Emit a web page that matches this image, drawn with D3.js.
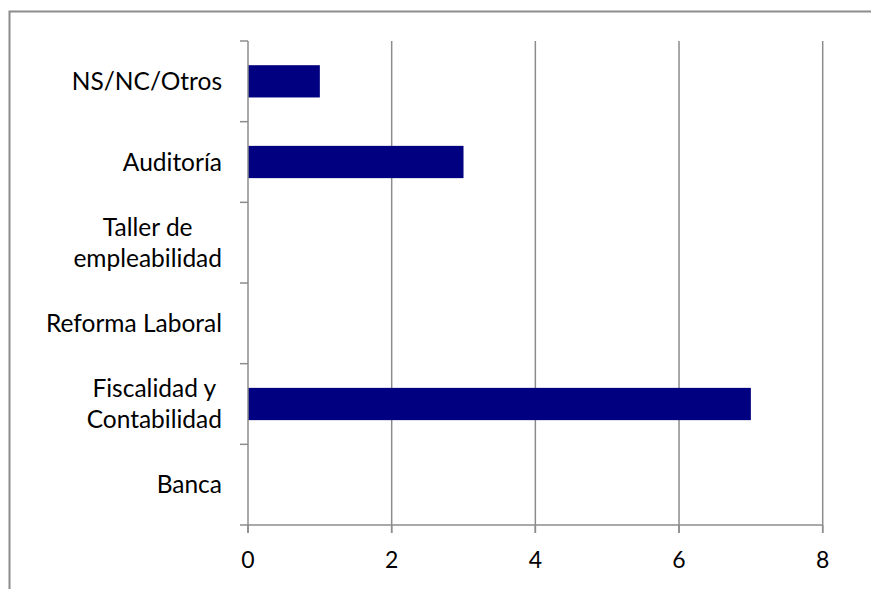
<!DOCTYPE html>
<html><head><meta charset="utf-8">
<script src="https://cdn.jsdelivr.net/npm/d3@7"></script>
<style>body{margin:0;background:#fff}svg{display:block}</style>
</head><body>
<script>
const categories = ["Banca", "Fiscalidad y\nContabilidad", "Reforma Laboral", "Taller de\nempleabilidad", "Auditoría", "NS/NC/Otros"];
const values = [0, 7, 0, 0, 3, 1];
const xTicks = [0, 2, 4, 6, 8];

(function () {
const W = 871, H = 589;
const pLeft = 248, pRight = 822.7, pTop = 41, pBottom = 525;
const font = "Lato, 'Open Sans', sans-serif";
const fs = 24.5;
const gridColor = "#8c8c8c";

const svg = d3.select("body").append("svg").attr("width", W).attr("height", H);
svg.append("rect").attr("x", 9.5).attr("y", 11.5).attr("width", 1000).attr("height", 1000)
  .attr("fill", "none").attr("stroke", gridColor).attr("stroke-width", 2);

const x = d3.scaleLinear().domain([0, 8]).range([pLeft, pRight]);
const y = d3.scaleBand().domain(categories).range([pBottom, pTop]).paddingInner(0.6).paddingOuter(0.3);

svg.append("g").selectAll("line").data(xTicks.filter(d => d > 0)).join("line")
  .attr("x1", d => x(d)).attr("x2", d => x(d)).attr("y1", pTop).attr("y2", pBottom + 8)
  .attr("stroke", gridColor).attr("stroke-width", 1.5);

svg.append("g").selectAll("rect").data(categories).join("rect")
  .attr("x", x(0)).attr("y", d => y(d))
  .attr("width", (d, i) => x(values[i]) - x(0)).attr("height", y.bandwidth())
  .attr("fill", "#000080");

svg.append("line").attr("x1", pLeft).attr("x2", pRight).attr("y1", pBottom).attr("y2", pBottom)
  .attr("stroke", gridColor).attr("stroke-width", 1.5);
svg.append("g").selectAll("line").data(xTicks).join("line")
  .attr("x1", d => x(d)).attr("x2", d => x(d)).attr("y1", pBottom).attr("y2", pBottom + 8)
  .attr("stroke", gridColor).attr("stroke-width", 1.5);
svg.append("g").selectAll("text").data(xTicks).join("text")
  .attr("x", d => x(d)).attr("y", 560).attr("dy", "0.35em").attr("text-anchor", "middle")
  .style("font-family", font).style("font-size", "23px").attr("fill", "#000").text(d => d);

svg.append("line").attr("x1", pLeft).attr("x2", pLeft).attr("y1", pTop).attr("y2", pBottom + 8)
  .attr("stroke", gridColor).attr("stroke-width", 1.5);
const step = y.step();
const catTicks = d3.range(categories.length + 1).map(i => pBottom - i * step);
svg.append("g").selectAll("line").data(catTicks).join("line")
  .attr("x1", pLeft - 8).attr("x2", pLeft).attr("y1", d => d).attr("y2", d => d)
  .attr("stroke", gridColor).attr("stroke-width", 1.5);

const lh = 31;
categories.forEach(c => {
  const lines = c.split("\n");
  const cy = y(c) + y.bandwidth() / 2;
  const g = svg.append("g");
  const texts = lines.map((l, i) => g.append("text")
    .attr("y", cy + (i - (lines.length - 1) / 2) * lh).attr("dy", "0.35em")
    .attr("text-anchor", "middle")
    .style("font-family", font).style("font-size", fs + "px").attr("fill", "#000").text(l));
  const maxW = d3.max(texts, t => t.node().getComputedTextLength());
  texts.forEach(t => t.attr("x", 222 - maxW / 2));
});
})();
</script>
</body></html>
